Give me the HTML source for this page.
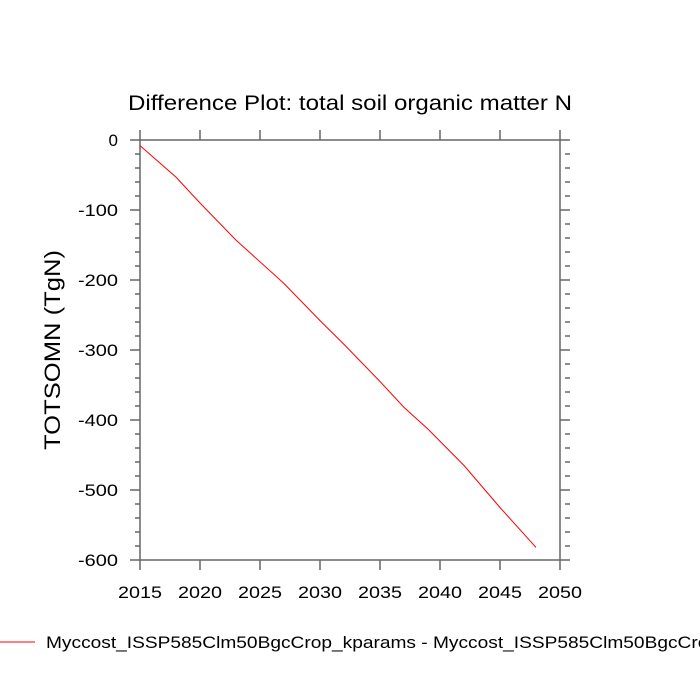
<!DOCTYPE html>
<html><head><meta charset="utf-8"><style>body{margin:0;background:#fff;overflow:hidden}svg{display:block}text{font-family:"Liberation Sans",sans-serif;fill:#000}</style></head><body>
<svg width="700" height="700" viewBox="0 0 700 700">
<text x="350" y="110" font-size="21" text-anchor="middle" textLength="444" lengthAdjust="spacingAndGlyphs">Difference Plot: total soil organic matter N</text>
<g stroke="#666" stroke-width="1.5" fill="none">
<rect x="140" y="140" width="420" height="420"/>
<path d="M140 140V130M200 140V130M260 140V130M320 140V130M380 140V130M440 140V130M500 140V130M560 140V130
M140 560V570M200 560V570M260 560V570M320 560V570M380 560V570M440 560V570M500 560V570M560 560V570
M130 140H140M130 210H140M130 280H140M130 350H140M130 420H140M130 490H140M130 560H140
M560 140H570M560 210H570M560 280H570M560 350H570M560 420H570M560 490H570M560 560H570"/>
<path id="mn" d="M135 154H140M135 168H140M135 182H140M135 196H140M135 224H140M135 238H140M135 252H140M135 266H140M135 294H140M135 308H140M135 322H140M135 336H140M135 364H140M135 378H140M135 392H140M135 406H140M135 434H140M135 448H140M135 462H140M135 476H140M135 504H140M135 518H140M135 532H140M135 546H140"/>
<use href="#mn" transform="translate(430 0)"/>
</g>
<g font-size="17" text-anchor="end">
<text x="118" y="146">0</text><text x="118" y="216" textLength="40" lengthAdjust="spacingAndGlyphs">-100</text><text x="118" y="286" textLength="40" lengthAdjust="spacingAndGlyphs">-200</text><text x="118" y="356" textLength="40" lengthAdjust="spacingAndGlyphs">-300</text><text x="118" y="426" textLength="40" lengthAdjust="spacingAndGlyphs">-400</text><text x="118" y="496" textLength="40" lengthAdjust="spacingAndGlyphs">-500</text><text x="118" y="566" textLength="40" lengthAdjust="spacingAndGlyphs">-600</text>
</g>
<g font-size="17" text-anchor="middle">
<text x="140" y="598" textLength="44" lengthAdjust="spacingAndGlyphs">2015</text><text x="200" y="598" textLength="44" lengthAdjust="spacingAndGlyphs">2020</text><text x="260" y="598" textLength="44" lengthAdjust="spacingAndGlyphs">2025</text><text x="320" y="598" textLength="44" lengthAdjust="spacingAndGlyphs">2030</text><text x="380" y="598" textLength="44" lengthAdjust="spacingAndGlyphs">2035</text><text x="440" y="598" textLength="44" lengthAdjust="spacingAndGlyphs">2040</text><text x="500" y="598" textLength="44" lengthAdjust="spacingAndGlyphs">2045</text><text x="560" y="598" textLength="44" lengthAdjust="spacingAndGlyphs">2050</text>
</g>
<text transform="translate(60 350) rotate(-90)" font-size="22" text-anchor="middle" textLength="200" lengthAdjust="spacingAndGlyphs">TOTSOMN  (TgN)</text>
<polyline fill="none" stroke="#f00" stroke-width="1" points="140,145.6 176,177.1 200,203 236,240.1 284,283.5 320,320.6 344,344.4 380,381.5 404,407.4 428,429.1 464,465.5 500,507.5 536,547.4"/>
<line x1="0" y1="642" x2="35" y2="642" stroke="#f00" stroke-width="1"/>
<text x="46" y="648" font-size="17" textLength="673" lengthAdjust="spacingAndGlyphs">Myccost_ISSP585Clm50BgcCrop_kparams - Myccost_ISSP585Clm50BgcCrop</text>
</svg>
</body></html>
